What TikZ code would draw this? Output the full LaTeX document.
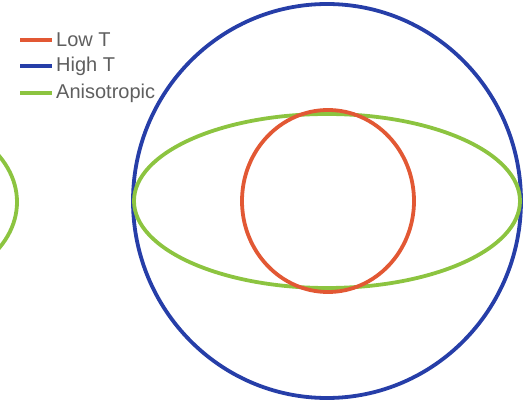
\documentclass[tikz,border=0pt]{standalone}
\usepackage{fontspec}
\setmainfont{Liberation Sans}
\definecolor{lowred}{RGB}{226,88,52}
\definecolor{highblue}{RGB}{38,62,168}
\definecolor{anisogreen}{RGB}{140,196,64}
\definecolor{keygray}{RGB}{95,95,95}

\begin{document}
\begin{tikzpicture}[
  x=1pt,y=-1pt,
  curve/.style={line width=3.8pt},
  key/.style={line width=3.8pt},
  keytext/.style={anchor=west,inner sep=0pt,text=keygray,font=\fontsize{20}{23}\selectfont}
]
\useasboundingbox (0,0) rectangle (527,403);
\clip (0,0) rectangle (527,403);

% left panel, cut off
\draw[curve,anisogreen] (-101,202) ellipse [x radius=118,y radius=87];

% right panel
\draw[curve,highblue] (327,201) ellipse [x radius=194,y radius=197];
\draw[curve,anisogreen] (327,201) ellipse [x radius=193,y radius=87];
\draw[curve,lowred] (328,201) ellipse [x radius=86,y radius=91];

% legend
\node[keytext] (lowlbl) at (56,40) {Low T};
\node[keytext] (highlbl) at (56,66) {High T};
\node[keytext] (anisolbl) at (56,93) {Anisotropic};
\coordinate (lowkey) at (20,40);
\coordinate (highkey) at (20,66);
\coordinate (anisokey) at (20,93);
\draw[key,lowred] (lowkey) -- ([xshift=-4pt]lowlbl.west);
\draw[key,highblue] (highkey) -- ([xshift=-4pt]highlbl.west);
\draw[key,anisogreen] (anisokey) -- ([xshift=-4pt]anisolbl.west);
\end{tikzpicture}
\end{document}
